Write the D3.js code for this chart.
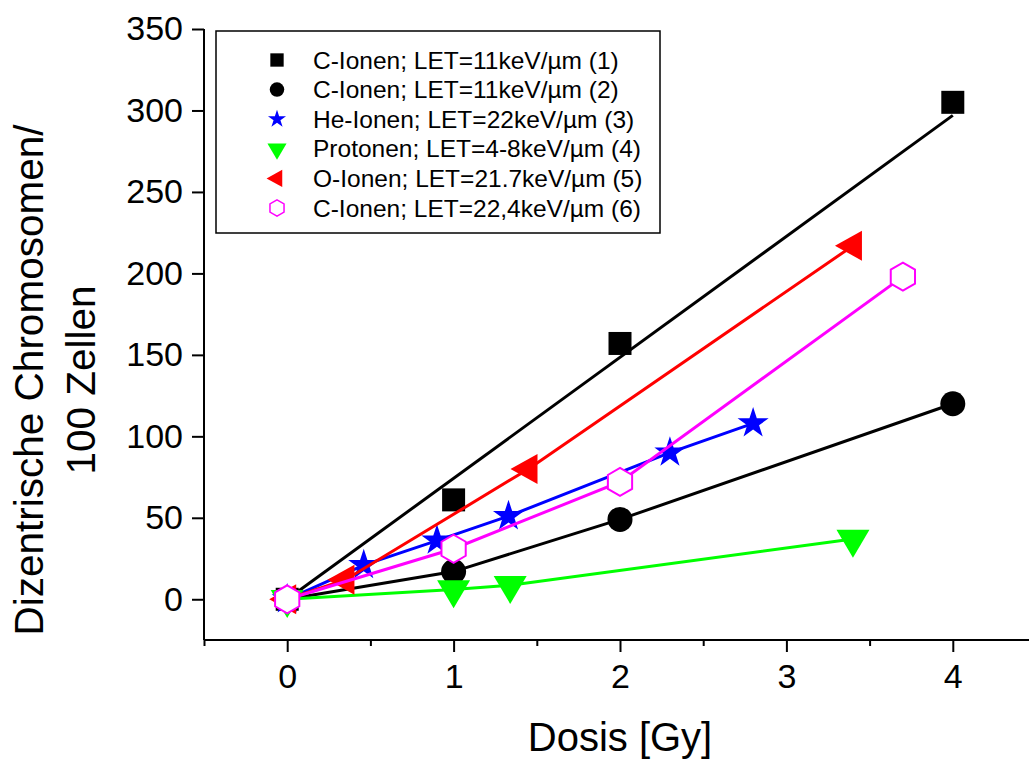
<!DOCTYPE html>
<html>
<head>
<meta charset="utf-8">
<script src="https://cdn.jsdelivr.net/npm/d3@7"></script>
<style>
  body { margin: 0; background: #fff; }
  text { font-family: "Liberation Sans", Arial, sans-serif; fill: #000; }
</style>
</head>
<body>
<svg id="chart" width="1029" height="760"></svg>
<script>
// values
const seriesNames = [
  'C-Ionen; LET=11keV/µm (1)',
  'C-Ionen; LET=11keV/µm (2)',
  'He-Ionen; LET=22keV/µm (3)',
  'Protonen; LET=4-8keV/µm (4)',
  'O-Ionen; LET=21.7keV/µm (5)',
  'C-Ionen; LET=22,4keV/µm (6)'
];
const seriesColors = ['#000000', '#000000', '#0000ff', '#00ff00', '#ff0000', '#ff00ff'];
const seriesShapes = ['square', 'circle', 'star', 'triDown', 'triLeft', 'hexagon'];

const doseC1 = [0, 1, 2, 4];
const valC1 = [0, 61, 157, 305];
const fitC1Dose = [0, 4];        // series 1 is drawn with a straight fit line
const fitC1Val = [0, 297];

const doseC2 = [0, 1, 2, 4];
const valC2 = [0, 17, 49, 120];

const doseHe = [0, 0.46, 0.9, 1.33, 2.3, 2.8];
const valHe = [0, 21, 36, 51, 90, 108];

const doseP = [0, 1, 1.34, 3.4];
const valP = [0, 6, 8.6, 37];

const doseO = [0, 0.35, 1.45, 3.4];
const valO = [0, 12, 80, 217];

const doseC6 = [0, 1, 2, 3.7];
const valC6 = [0, 31, 72, 198];

const xTicks = [0, 1, 2, 3, 4];
const xMinorTicks = [-0.5, 0.5, 1.5, 2.5, 3.5, 4.5];
const yTicks = [0, 50, 100, 150, 200, 250, 300, 350];

const svg = d3.select('#chart');

// scales
const x = d3.scaleLinear().domain([-0.5, 4.5]).range([204, 1036]);
const y = d3.scaleLinear().domain([-25, 350]).range([640, 29]);

// marker paths, scale k = 1 for the plot, smaller for legend
function shapePath(shape, k) {
  if (shape === 'square') return d3.symbol(d3.symbolSquare, 23 * 23 * k * k)();
  if (shape === 'circle') return d3.symbol(d3.symbolCircle, Math.PI * 12.5 * 12.5 * k * k)();
  if (shape === 'star') return d3.symbol(d3.symbolStar, 300 * k * k)();
  if (shape === 'triDown') {
    const w = 33 * k, h = 28 * k;
    return `M${-w / 2},${-h / 3}L${w / 2},${-h / 3}L0,${2 * h / 3}Z`;
  }
  if (shape === 'triLeft') {
    const w = 27 * k, h = 30 * k;
    return `M${-2 * w / 3},0L${w / 3},${-h / 2}L${w / 3},${h / 2}Z`;
  }
  if (shape === 'hexagon') {
    const r = 14 * k;
    const pts = d3.range(6).map(i => {
      const a = Math.PI / 3 * i;
      return [r * Math.sin(a), -r * Math.cos(a)];
    });
    return 'M' + pts.map(p => p.join(',')).join('L') + 'Z';
  }
}

const series = [
  { dose: doseC1, val: valC1, lineDose: fitC1Dose, lineVal: fitC1Val },
  { dose: doseC2, val: valC2 },
  { dose: doseHe, val: valHe },
  { dose: doseP, val: valP },
  { dose: doseO, val: valO },
  { dose: doseC6, val: valC6 }
].map((s, i) => ({ ...s, name: seriesNames[i], color: seriesColors[i], shape: seriesShapes[i] }));

// axes
const gx = svg.append('g').attr('transform', 'translate(0,640)');
gx.call(d3.axisBottom(x).tickValues(xTicks).tickSize(12).tickPadding(12).tickFormat(d3.format('d')));
gx.append('g').call(d3.axisBottom(x).tickValues(xMinorTicks).tickSize(6).tickFormat(''))
  .select('.domain').remove();
gx.select('.domain').attr('d', 'M204,0H1029');

const gy = svg.append('g').attr('transform', 'translate(204,0)');
gy.call(d3.axisLeft(y).tickValues(yTicks).tickSize(12).tickPadding(9).tickFormat(d3.format('d')));
gy.select('.domain').attr('d', 'M0,29V640');

svg.selectAll('.tick text').attr('font-size', 34).attr('font-family', '"Liberation Sans", Arial, sans-serif');
svg.selectAll('.tick line, .domain').attr('stroke', '#000').attr('stroke-width', 2);

// axis titles
svg.append('text')
  .attr('x', 620).attr('y', 751)
  .attr('text-anchor', 'middle')
  .attr('font-size', 40)
  .text('Dosis [Gy]');

const yTitle = svg.append('text')
  .attr('transform', 'translate(0,380) rotate(-90)')
  .attr('text-anchor', 'middle')
  .attr('font-size', 40.5);
yTitle.append('tspan').attr('x', 0).attr('y', 43).text('Dizentrische Chromosomen/');
yTitle.append('tspan').attr('x', 0).attr('y', 95).text('100 Zellen');

// series: line then markers, in order
const line = d3.line().x(d => x(d[0])).y(d => y(d[1]));
series.forEach(s => {
  const g = svg.append('g');
  const lx = s.lineDose || s.dose, ly = s.lineVal || s.val;
  g.append('path')
    .attr('d', line(lx.map((d, i) => [d, ly[i]])))
    .attr('fill', 'none')
    .attr('stroke', s.color)
    .attr('stroke-width', 3);
  g.selectAll('path.mark')
    .data(s.dose.map((d, i) => [d, s.val[i]]))
    .enter().append('path')
    .attr('class', 'mark')
    .attr('transform', d => `translate(${x(d[0])},${y(d[1])})`)
    .attr('d', shapePath(s.shape, 1))
    .attr('fill', s.shape === 'hexagon' ? '#fff' : s.color)
    .attr('stroke', s.shape === 'hexagon' ? s.color : 'none')
    .attr('stroke-width', 2);
});

// legend
const legend = svg.append('g');
legend.append('rect')
  .attr('x', 216).attr('y', 31).attr('width', 444).attr('height', 202)
  .attr('fill', '#fff').attr('stroke', '#000').attr('stroke-width', 1.5);
series.forEach((s, i) => {
  const ly = 60 + i * 29.6;
  legend.append('path')
    .attr('transform', `translate(277,${ly})`)
    .attr('d', shapePath(s.shape, 0.58))
    .attr('fill', s.shape === 'hexagon' ? '#fff' : s.color)
    .attr('stroke', s.shape === 'hexagon' ? s.color : 'none')
    .attr('stroke-width', 1.5);
  legend.append('text')
    .attr('x', 313).attr('y', ly + 8.5)
    .attr('font-size', 24.5)
    .text(s.name);
});
</script>
</body>
</html>
